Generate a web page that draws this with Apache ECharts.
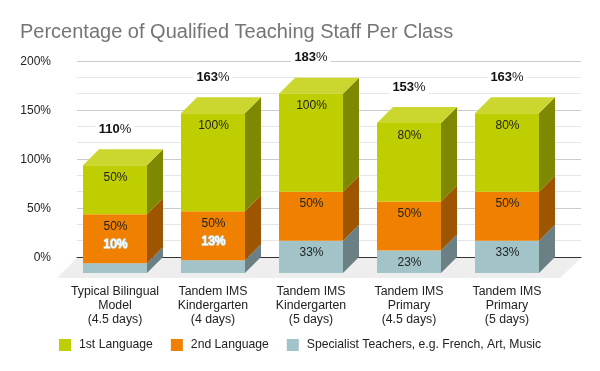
<!DOCTYPE html>
<html>
<head>
<meta charset="utf-8">
<script src="https://cdn.jsdelivr.net/npm/echarts@6/dist/echarts.min.js"></script>
<style>html,body{margin:0;padding:0;background:#fff}#c{width:600px;height:371px}</style>
</head>
<body>
<div id="c"></div>
<script>
const categories = [
  'Typical Bilingual\nModel\n(4.5 days)',
  'Tandem IMS\nKindergarten\n(4 days)',
  'Tandem IMS\nKindergarten\n(5 days)',
  'Tandem IMS\nPrimary\n(4.5 days)',
  'Tandem IMS\nPrimary\n(5 days)'
];
const firstLanguage = [50, 100, 100, 80, 80];
const secondLanguage = [50, 50, 50, 50, 50];
const specialist = [10, 13, 33, 23, 33];
const totals = [110, 163, 183, 153, 163];
const seriesNames = ['1st Language', '2nd Language', 'Specialist Teachers, e.g. French, Art, Music'];
const yTicks = [0, 50, 100, 150, 200];

const FONT = '"Liberation Sans", Arial, sans-serif';
const DEPTH = 16;
const chart = echarts.init(document.getElementById('c'), null, {renderer: 'canvas'});

function barBox(api, cat, base, val) {
  const band = api.size([1, 0])[0];
  const w = band * 64 / 98;
  const c0 = api.coord([cat, base]);
  const c1 = api.coord([cat, base + val]);
  return {x0: c0[0] - w / 2, x1: c0[0] + w / 2, yb: c0[1], yt: c1[1], cx: c0[0]};
}
function segmentSeries(name, values, bases, colors, hasTop, z) {
  return {
    type: 'custom', name, xAxisIndex: 1, yAxisIndex: 1, z,
    itemStyle: {color: colors.front},
    data: values.map((v, i) => [i, bases[i], v]),
    renderItem: (params, api) => {
      const b = barBox(api, api.value(0), api.value(1), api.value(2));
      const ch = [
        {type: 'rect', shape: {x: b.x0, y: b.yt, width: b.x1 - b.x0, height: b.yb - b.yt}, style: {fill: colors.front}},
        {type: 'polygon', shape: {points: [[b.x1, b.yb], [b.x1 + DEPTH, b.yb - DEPTH], [b.x1 + DEPTH, b.yt - DEPTH], [b.x1, b.yt]]}, style: {fill: colors.side}}
      ];
      if (hasTop) ch.push({type: 'polygon', shape: {points: [[b.x0, b.yt], [b.x0 + DEPTH, b.yt - DEPTH], [b.x1 + DEPTH, b.yt - DEPTH], [b.x1, b.yt]]}, style: {fill: colors.top}});
      return {type: 'group', children: ch};
    }
  };
}
const base1 = specialist.map(v => 0);
const base2 = specialist.slice();
const base3 = specialist.map((v, i) => v + secondLanguage[i]);

const labelRows = [];
[[specialist, base1], [secondLanguage, base2], [firstLanguage, base3]].forEach(([vals, bases]) => {
  vals.forEach((v, i) => labelRows.push([i, bases[i], v]));
});

const option = {
  animation: false,
  backgroundColor: '#fff',
  title: {
    text: 'Percentage of Qualified Teaching Staff Per Class',
    left: 15, top: 17,
    textStyle: {fontFamily: FONT, fontSize: 20, fontWeight: 'normal', color: '#757575'}
  },
  legend: {
    left: 54, top: 334, itemWidth: 12, itemHeight: 12, itemGap: 18, icon: 'rect',
    selectedMode: false,
    data: seriesNames,
    textStyle: {fontFamily: FONT, fontSize: 12.2, color: '#222', padding: [0, 0, 0, 3]}
  },
  grid: [
    {left: 77, width: 504, top: 61, height: 196},
    {left: 66, width: 490, top: 77, height: 196}
  ],
  xAxis: [
    {gridIndex: 0, type: 'category', data: categories, axisLabel: {show: false}, axisTick: {show: false},
     axisLine: {show: true, lineStyle: {color: '#333', width: 1}}},
    {gridIndex: 1, type: 'category', data: categories, axisTick: {show: false}, axisLine: {show: false},
     axisLabel: {interval: 0, margin: 12, fontFamily: FONT, fontSize: 12.3, lineHeight: 14, color: '#222'}}
  ],
  yAxis: [
    {gridIndex: 0, type: 'value', min: 0, max: 200, interval: 50,
     axisLine: {show: false}, axisTick: {show: false},
     axisLabel: {margin: 26, fontFamily: FONT, fontSize: 12, color: '#222',
       formatter: v => yTicks.includes(v) ? '{a|' + v + '%}' : '',
       rich: {a: {fontFamily: FONT, fontSize: 12, color: '#222', padding: [1.5, 0, 0, 0]}}},
     splitLine: {show: true, lineStyle: {color: '#cccccc', width: 1}},
     minorTick: {show: false, splitNumber: 3},
     minorSplitLine: {show: true, lineStyle: {color: '#e6e6e6', width: 1}}},
    {gridIndex: 1, type: 'value', min: 0, max: 200, interval: 50, show: false, splitLine: {show: false}}
  ],
  series: [
    {
      type: 'custom', name: 'floor', xAxisIndex: 1, yAxisIndex: 1, z: 1, silent: true,
      data: [[0, 0]],
      renderItem: (params, api) => {
        const band = api.size([1, 0])[0];
        const l = api.coord([0, 0])[0] - band / 2;
        const r = api.coord([categories.length - 1, 0])[0] + band / 2;
        const y = api.coord([0, 0])[1];
        return {type: 'polygon', shape: {points: [[l - 9, y + 5], [l + 11, y - 15], [r + 25, y - 15], [r + 4, y + 5]]}, style: {fill: '#eeeeee'}};
      }
    },
    segmentSeries(seriesNames[2], specialist, base1, {front: '#a2c4c9', side: '#6b8085'}, false, 2),
    segmentSeries(seriesNames[1], secondLanguage, base2, {front: '#f08000', side: '#9e5500'}, false, 3),
    segmentSeries(seriesNames[0], firstLanguage, base3, {front: '#bfce00', side: '#7e8800', top: '#cbd62f'}, true, 4),
    {
      type: 'custom', name: 'segment labels', xAxisIndex: 1, yAxisIndex: 1, z: 5, silent: true,
      data: labelRows,
      renderItem: (params, api) => {
        const b = barBox(api, api.value(0), api.value(1), api.value(2));
        const h = b.yb - b.yt;
        const small = h < 14;
        const mid = h < 24;
        return {
          type: 'text',
          style: {
            text: api.value(2) + '%', x: b.cx + 0.5, y: small ? b.yt - 18.5 : (mid ? (b.yt + b.yb) / 2 + 0.5 : b.yt + 12.5),
            align: 'center', verticalAlign: 'middle',
            fontFamily: FONT, fontSize: 12,
            fill: small ? '#ffffff' : '#222',
            stroke: small ? '#cfe6ee' : null, lineWidth: small ? 1.5 : 0
          }
        };
      }
    },
    {
      type: 'custom', name: 'totals', xAxisIndex: 1, yAxisIndex: 1, z: 6, silent: true,
      data: totals.map((v, i) => [i, v]),
      renderItem: (params, api) => {
        const c = api.coord([api.value(0), api.value(1)]);
        return {
          type: 'text',
          style: {
            text: '{b|' + api.value(1) + '}{p|%}', x: c[0], y: c[1] - DEPTH - 20,
            align: 'center', verticalAlign: 'middle',
            backgroundColor: '#fff', padding: [1, 3],
            rich: {
              b: {fontFamily: FONT, fontSize: 13, fontWeight: 'bold', fill: '#111', color: '#111'},
              p: {fontFamily: FONT, fontSize: 13, fill: '#222', color: '#222'}
            }
          }
        };
      }
    }
  ]
};
chart.setOption(option);
</script>
</body>
</html>
